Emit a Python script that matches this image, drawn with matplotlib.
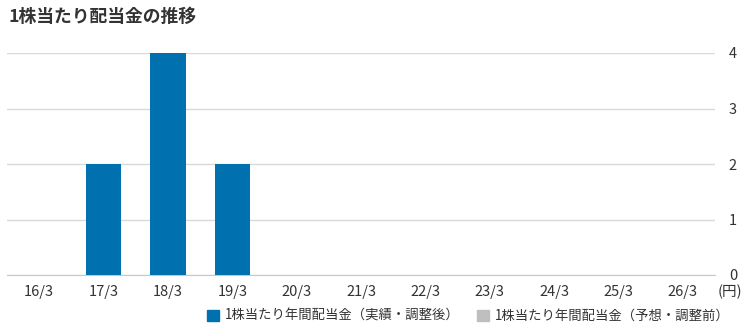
import numpy as np
import matplotlib
matplotlib.use('Agg')
import matplotlib.pyplot as plt
from matplotlib.patches import Patch

plt.rcParams['font.family'] = ['Noto Sans CJK JP', 'DejaVu Sans']

# data
periods = ['16/3', '17/3', '18/3', '19/3', '20/3', '21/3', '22/3', '23/3', '24/3', '25/3', '26/3']
actual = [np.nan, 2, 4, 2, np.nan, np.nan, np.nan, np.nan, np.nan, np.nan, np.nan]
forecast = [np.nan] * len(periods)
y_ticks = [0, 1, 2, 3, 4]
title = '1株当たり配当金の推移'
actual_label = '1株当たり年間配当金（実績・調整後）'
forecast_label = '1株当たり年間配当金（予想・調整前）'

BLUE = '#0071ae'
GRAY = '#bfbfbf'
TXT = '#333333'

W, H = 742, 325
fig = plt.figure(figsize=(W / 100, H / 100), dpi=100)
ax = fig.add_axes([7 / W, 50 / H, 708 / W, 222 / H])

x = np.arange(len(periods))
ax.bar(x, forecast, width=0.55, color=GRAY, zorder=2)
ax.bar(x, actual, width=0.55, color=BLUE, zorder=3)

ax.set_xlim(-0.5, len(periods) - 0.5)
ax.set_ylim(0, 4)
ax.set_yticks(y_ticks)
ax.yaxis.tick_right()
ax.grid(axis='y', color='#d9d9d9', linewidth=1, zorder=0)
ax.set_xticks(x)
ax.set_xticklabels(periods)
ax.tick_params(axis='both', length=0, labelsize=10.5, labelcolor=TXT)
ax.tick_params(axis='x', pad=7)
ax.tick_params(axis='y', pad=10)
for s in ['top', 'left', 'right']:
    ax.spines[s].set_visible(False)
ax.spines['bottom'].set_color('#c8c8c8')

fig.text(8 / W, 1 - 17 / H, title, fontsize=12.8, fontweight='bold', color=TXT, va='center')
fig.text(718 / W, 1 - 292 / H, '(円)', fontsize=10.5, color=TXT, va='center')

handles = [Patch(color=BLUE), Patch(color=GRAY)]
fig.legend(handles, [actual_label, forecast_label], ncol=2, frameon=False,
           loc='center left', bbox_to_anchor=(207 / W, 1 - 316 / H),
           fontsize=9.6, handlelength=0.9, handleheight=0.9, handletextpad=0.45,
           columnspacing=1.3, labelcolor=TXT, borderaxespad=0, borderpad=0)

fig.savefig('out.png', dpi=100)
